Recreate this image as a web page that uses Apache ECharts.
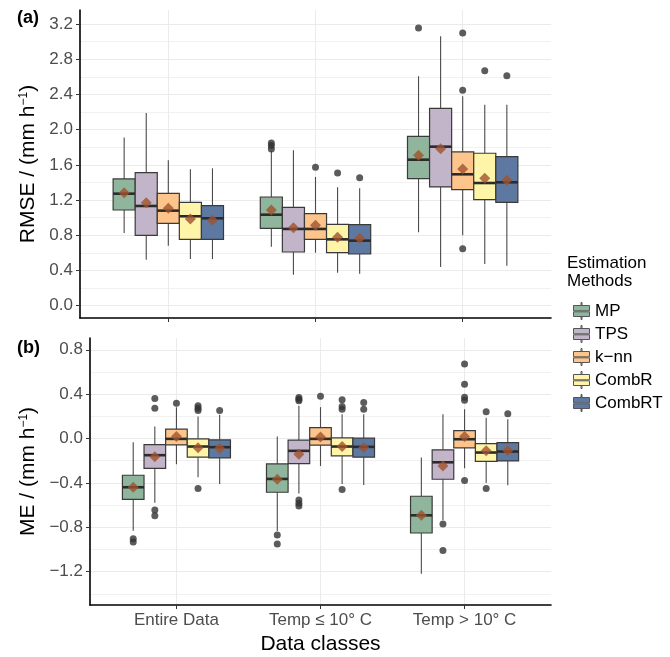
<!DOCTYPE html>
<html>
<head>
<meta charset="utf-8">
<script src="https://cdn.jsdelivr.net/npm/echarts@6/dist/echarts.min.js"></script>
<style>html,body{margin:0;padding:0;background:#fff}#chart{width:670px;height:657px}</style>
</head>
<body>
<div id="chart"></div>
<script>
// ---------- data ----------
const categories = ['Entire Data', 'Temp \u2264 10\u00b0 C', 'Temp > 10\u00b0 C'];
const methods = ['MP', 'TPS', 'k\u2212nn', 'CombR', 'CombRT'];
const colors = ['#8fb59d', '#c3b5c9', '#fdc58c', '#fff5a9', '#5d79a2'];

// RMSE box stats per method, per category: [lowWhisker, Q1, median, Q3, highWhisker]
const rmseMP     = [[0.826,1.087,1.273,1.440,1.910],[0.670,0.879,1.034,1.235,1.760],[0.834,1.443,1.659,1.925,2.607]];
const rmseTPS    = [[0.523,0.800,1.133,1.511,2.190],[0.352,0.610,0.872,1.118,1.766],[0.440,1.349,1.807,2.243,3.061]];
const rmseKNN    = [[0.682,0.936,1.080,1.277,1.652],[0.602,0.754,0.872,1.045,1.463],[0.800,1.318,1.493,1.747,2.379]];
const rmseCombR  = [[0.530,0.754,1.016,1.175,1.550],[0.375,0.602,0.754,0.925,1.345],[0.474,1.205,1.394,1.732,2.284]];
const rmseCombRT = [[0.530,0.754,0.993,1.136,1.561],[0.364,0.587,0.739,0.922,1.334],[0.455,1.175,1.402,1.693,2.284]];
const rmseMeans  = [[1.284,1.088,1.709],[1.170,0.886,1.784],[1.107,0.914,1.553],[0.985,0.777,1.447],[0.970,0.766,1.425]];
const rmseOutliers = [
  [[], [1.85,1.82,1.78], [3.156]],
  [[], [], []],
  [[], [1.573], [3.099,2.448,0.648]],
  [[], [1.508], [2.670]],
  [[], [1.455], [2.614]]
];

// ME box stats
const meMP     = [[-0.830,-0.548,-0.439,-0.331,-0.033],[-0.833,-0.484,-0.364,-0.229,0.018],[-1.218,-0.851,-0.692,-0.520,-0.171]];
const meTPS    = [[-0.578,-0.268,-0.150,-0.054,0.108],[-0.496,-0.226,-0.111,-0.015,0.295],[-0.735,-0.367,-0.214,-0.102,0.220]];
const meKNN    = [[-0.232,-0.057,-0.003,0.084,0.283],[-0.247,-0.060,-0.003,0.099,0.283],[-0.268,-0.084,-0.006,0.072,0.265]];
const meCombR  = [[-0.349,-0.168,-0.072,-0.003,0.199],[-0.409,-0.156,-0.072,0.006,0.220],[-0.400,-0.205,-0.126,-0.045,0.187]];
const meCombRT = [[-0.409,-0.174,-0.078,-0.012,0.214],[-0.418,-0.168,-0.075,0.003,0.220],[-0.421,-0.202,-0.117,-0.036,0.174]];
const meMeans  = [[-0.440,-0.367,-0.692],[-0.165,-0.141,-0.247],[0.018,0.015,0.018],[-0.084,-0.072,-0.111],[-0.087,-0.081,-0.108]];
const meOutliers = [
  [[-0.903,-0.933], [-0.869,-0.951], []],
  [[0.361,0.274,-0.644,-0.695], [0.370,0.355,0.340,-0.554,-0.584,-0.608], [-0.770,-1.008]],
  [[0.319], [0.382], [0.671,0.490,0.373,0.346,-0.379]],
  [[0.295,0.274,0.253,-0.451], [0.349,0.289,0.265,-0.460], [0.241,-0.451]],
  [[0.253], [0.325,0.265], [0.223]]
];

const rmseTicks = [0, 0.4, 0.8, 1.2, 1.6, 2.0, 2.4, 2.8, 3.2];
const rmseMinor = [0.2, 0.6, 1.0, 1.4, 1.8, 2.2, 2.6, 3.0];
const meTicks = [-1.2, -0.8, -0.4, 0, 0.4, 0.8];
const meMinor = [-1.4, -1.0, -0.6, -0.2, 0.2, 0.6];
const catTicks = [1, 2, 3];

// ---------- build ----------
const FONT = 'Liberation Sans, Arial, Helvetica, sans-serif';
const BOX_W = 0.15;
const panels = [
  { stats: [rmseMP, rmseTPS, rmseKNN, rmseCombR, rmseCombRT], means: rmseMeans, outliers: rmseOutliers },
  { stats: [meMP, meTPS, meKNN, meCombR, meCombRT], means: meMeans, outliers: meOutliers }
];
function xPos(c, m) { return c + 1 + (m - 2) * BOX_W; }

function renderBox(params, api) {
  const x = api.value(0);
  const lo = api.coord([x, api.value(1)]);
  const q1 = api.coord([x, api.value(2)]);
  const md = api.coord([x, api.value(3)]);
  const q3 = api.coord([x, api.value(4)]);
  const hi = api.coord([x, api.value(5)]);
  const w = api.size([BOX_W, 0])[0];
  const fill = api.visual('color');
  return {
    type: 'group',
    children: [
      { type: 'line', shape: { x1: lo[0], y1: lo[1], x2: q1[0], y2: q1[1] }, style: { stroke: '#4a4a4a', lineWidth: 1.1 } },
      { type: 'line', shape: { x1: q3[0], y1: q3[1], x2: hi[0], y2: hi[1] }, style: { stroke: '#4a4a4a', lineWidth: 1.1 } },
      { type: 'rect', shape: { x: q3[0] - w / 2, y: q3[1], width: w, height: q1[1] - q3[1] }, style: { fill: fill, stroke: '#3a3a3a', lineWidth: 1.2 } },
      { type: 'line', shape: { x1: md[0] - w / 2, y1: md[1], x2: md[0] + w / 2, y2: md[1] }, style: { stroke: '#2b2b2b', lineWidth: 2.6 } }
    ]
  };
}

const series = [];
panels.forEach((p, pi) => {
  methods.forEach((name, m) => {
    series.push({
      type: 'custom', name: name, xAxisIndex: pi, yAxisIndex: pi,
      itemStyle: { color: colors[m] },
      renderItem: renderBox,
      encode: { x: 0, y: [1, 2, 3, 4, 5] },
      data: p.stats[m].map((s, c) => [xPos(c, m)].concat(s)),
      z: 2
    });
  });
  const outs = [];
  const means = [];
  methods.forEach((name, m) => {
    p.outliers[m].forEach((arr, c) => arr.forEach(v => outs.push([xPos(c, m), v])));
    p.means[m].forEach((v, c) => means.push([xPos(c, m), v]));
  });
  series.push({ type: 'scatter', name: 'outliers', xAxisIndex: pi, yAxisIndex: pi, symbol: 'circle', symbolSize: 7,
    itemStyle: { color: '#333333' }, data: outs, z: 4, silent: true });
  series.push({ type: 'scatter', name: 'means', xAxisIndex: pi, yAxisIndex: pi, symbol: 'diamond', symbolSize: [11, 11],
    itemStyle: { color: '#a0522d' }, data: means, z: 5, silent: true });
});

function fmt(v) { return (v < 0 ? '\u2212' : '') + Math.abs(v).toFixed(1); }

const gridLine = { show: true, lineStyle: { color: '#ebebeb', width: 1.1 } };
const minorLine = { show: true, lineStyle: { color: '#f1f1f1', width: 1 } };
const axisLineBlack = { show: true, onZero: false, lineStyle: { color: '#000', width: 1.6 } };
const tickStyle = { show: true, length: 4, lineStyle: { color: '#333', width: 1 } };
const labelStyle = { color: '#4d4d4d', fontSize: 17, fontFamily: FONT };

function xAxisFor(gi, withLabels) {
  const ax = {
    type: 'value', gridIndex: gi, min: 0.4, max: 3.6,
    axisLine: axisLineBlack,
    axisTick: Object.assign({}, tickStyle, { customValues: catTicks }),
    axisLabel: withLabels ? Object.assign({}, labelStyle, { customValues: catTicks, margin: 7, formatter: v => categories[Math.round(v) - 1] }) : { show: false },
    splitLine: gridLine
  };
  if (withLabels) {
    ax.name = 'Data classes';
    ax.nameLocation = 'middle';
    ax.nameGap = 29;
    ax.nameTextStyle = { color: '#000', fontSize: 21, fontFamily: FONT };
  }
  return ax;
}
function yAxisMain(gi, min, max, ticks, title, gap) {
  return {
    type: 'value', gridIndex: gi, min: min, max: max,
    axisLine: axisLineBlack,
    axisTick: Object.assign({}, tickStyle, { customValues: ticks }),
    axisLabel: Object.assign({}, labelStyle, { customValues: ticks, margin: 7, formatter: fmt }),
    splitLine: gridLine,
    name: title + ' / (mm h{sup|\u22121})',
    nameLocation: 'middle', nameRotate: 90, nameGap: gap,
    nameTextStyle: { color: '#000', fontSize: 21, fontFamily: FONT,
      rich: { sup: { fontSize: 12, fontFamily: FONT, color: '#000', verticalAlign: 'top', padding: [0, 0, 9, 0] } } }
  };
}
function yAxisMinor(gi, min, max, ticks) {
  return {
    type: 'value', gridIndex: gi, min: min, max: max, position: 'left',
    axisLine: { show: false }, axisTick: { show: false, customValues: ticks },
    axisLabel: { show: false }, splitLine: minorLine
  };
}

const option = {
  animation: false,
  backgroundColor: '#fff',
  textStyle: { fontFamily: FONT },
  grid: [
    { left: 80, right: 119, top: 10, height: 308 },
    { left: 90, right: 119, top: 338, height: 267 }
  ],
  xAxis: [xAxisFor(0, false), xAxisFor(1, true)],
  yAxis: [
    yAxisMain(0, -0.14, 3.36, rmseTicks, 'RMSE', 41),
    yAxisMain(1, -1.5, 0.906, meTicks, 'ME', 51),
    yAxisMinor(0, -0.14, 3.36, rmseMinor),
    yAxisMinor(1, -1.5, 0.906, meMinor)
  ],
  legend: {
    orient: 'vertical', left: 568, top: 297,
    itemWidth: 17, itemHeight: 17, itemGap: 5,
    data: methods.map(n => ({ name: n, icon: 'path://M0,3H16V8.3H0Z M0,9.3H16V14H0Z M7.5,0H8.5V3H7.5Z M7.5,14H8.5V17H7.5Z' })),
    itemStyle: { borderColor: '#555', borderWidth: 1 },
    textStyle: { color: '#000', fontSize: 17, fontFamily: FONT },
    selectedMode: false
  },
  graphic: [
    { type: 'text', left: 567, top: 254, style: { text: 'Estimation\nMethods', fill: '#000', font: '17px ' + FONT, lineHeight: 18 } },
    { type: 'text', left: 17, top: 9, style: { text: '(a)', fill: '#000', font: 'bold 18px ' + FONT } },
    { type: 'text', left: 17, top: 339, style: { text: '(b)', fill: '#000', font: 'bold 18px ' + FONT } }
  ],
  series: series
};

const chart = echarts.init(document.getElementById('chart'), null, { renderer: 'canvas' });
chart.setOption(option);
</script>
</body>
</html>
